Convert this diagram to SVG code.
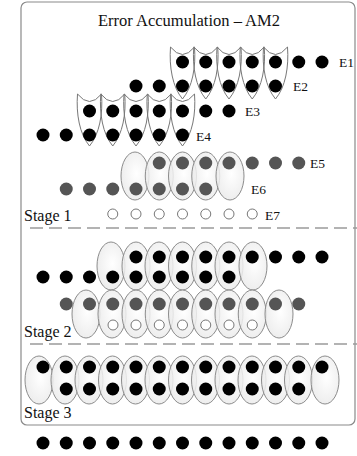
<svg xmlns="http://www.w3.org/2000/svg" xmlns:xlink="http://www.w3.org/1999/xlink" width="357" height="456" viewBox="0 0 357 456">
<style>
.t{font-family:"Liberation Serif","Times New Roman",serif;fill:#111}
.ttl{font-size:16.5px}
.stg{font-size:16px}
.lbl{font-size:13.5px}
.dash{stroke:#9a9a9a;stroke-width:1.6;stroke-dasharray:13 6;fill:none}
</style>
<defs>
<radialGradient id="eg" cx="0.55" cy="0.45" r="0.6">
<stop offset="0" stop-color="#ffffff"/>
<stop offset="1" stop-color="#e9e9e9"/>
</radialGradient>
<circle id="b" r="6.5" fill="#000"/>
<circle id="g" r="6.5" fill="#555"/>
<circle id="o" r="5" fill="#fff" stroke="#777" stroke-width="1"/>
<ellipse id="el" rx="14" ry="24" fill="url(#eg)" fill-opacity="0.85" stroke="#8c8c8c" stroke-width="1"/>
<path id="sh" d="M-12,0 Q0,15 12,0 C13.5,20 10,40 0,52 C-10,40 -13.5,20 -12,0 Z" fill="none" stroke="#777" stroke-width="1"/>
</defs>
<rect width="357" height="456" fill="#fff"/>
<g id="frame">
<rect x="21" y="2" width="334" height="423" rx="6" fill="none" stroke="#8a8a8a" stroke-width="1.2"/>
<text class="t ttl" x="189" y="26" text-anchor="middle">Error Accumulation – AM2</text>
</g>
<g id="stage1">
<g id="shields-top">
<use xlink:href="#sh" x="182.5" y="47"/><use xlink:href="#sh" x="205.75" y="47"/><use xlink:href="#sh" x="229" y="47"/><use xlink:href="#sh" x="252.25" y="47"/><use xlink:href="#sh" x="275.5" y="47"/>
</g>
<g id="E1">
<use xlink:href="#b" x="182.5" y="62"/><use xlink:href="#b" x="205.75" y="62"/><use xlink:href="#b" x="229" y="62"/><use xlink:href="#b" x="252.25" y="62"/><use xlink:href="#b" x="275.5" y="62"/><use xlink:href="#b" x="298.75" y="62"/><use xlink:href="#b" x="322" y="62"/>
<text class="t lbl" x="339" y="67">E1</text>
</g>
<g id="E2">
<use xlink:href="#b" x="136" y="86"/><use xlink:href="#b" x="159.25" y="86"/><use xlink:href="#b" x="182.5" y="86"/><use xlink:href="#b" x="205.75" y="86"/><use xlink:href="#b" x="229" y="86"/><use xlink:href="#b" x="252.25" y="86"/><use xlink:href="#b" x="275.5" y="86"/>
<text class="t lbl" x="293" y="91">E2</text>
</g>
<g id="shields-low">
<use xlink:href="#sh" x="89.5" y="94"/><use xlink:href="#sh" x="112.75" y="94"/><use xlink:href="#sh" x="136" y="94"/><use xlink:href="#sh" x="159.25" y="94"/><use xlink:href="#sh" x="182.5" y="94"/>
</g>
<g id="E3">
<use xlink:href="#b" x="89.5" y="111"/><use xlink:href="#b" x="112.75" y="111"/><use xlink:href="#b" x="136" y="111"/><use xlink:href="#b" x="159.25" y="111"/><use xlink:href="#b" x="182.5" y="111"/><use xlink:href="#b" x="205.75" y="111"/><use xlink:href="#b" x="229" y="111"/>
<text class="t lbl" x="245" y="116">E3</text>
</g>
<g id="E4">
<use xlink:href="#b" x="43" y="135"/><use xlink:href="#b" x="66.25" y="135"/><use xlink:href="#b" x="89.5" y="135"/><use xlink:href="#b" x="112.75" y="135"/><use xlink:href="#b" x="136" y="135"/><use xlink:href="#b" x="159.25" y="135"/><use xlink:href="#b" x="182.5" y="135"/>
<text class="t lbl" x="196" y="141">E4</text>
</g>
<g id="ell1">
<use xlink:href="#el" x="135" y="176"/><use xlink:href="#el" x="159.25" y="176"/><use xlink:href="#el" x="182.5" y="176"/><use xlink:href="#el" x="205.75" y="176"/><use xlink:href="#el" x="230" y="176"/>
</g>
<g id="E5">
<use xlink:href="#g" x="159.25" y="163"/><use xlink:href="#g" x="182.5" y="163"/><use xlink:href="#g" x="205.75" y="163"/><use xlink:href="#g" x="229" y="163"/><use xlink:href="#g" x="252.25" y="163"/><use xlink:href="#g" x="275.5" y="163"/><use xlink:href="#g" x="298.75" y="163"/>
<text class="t lbl" x="310" y="168">E5</text>
</g>
<g id="E6">
<use xlink:href="#g" x="66.25" y="189"/><use xlink:href="#g" x="89.5" y="189"/><use xlink:href="#g" x="112.75" y="189"/><use xlink:href="#g" x="136" y="189"/><use xlink:href="#g" x="159.25" y="189"/><use xlink:href="#g" x="182.5" y="189"/><use xlink:href="#g" x="205.75" y="189"/>
<text class="t lbl" x="251" y="194">E6</text>
</g>
<g id="E7">
<use xlink:href="#o" x="112.75" y="214"/><use xlink:href="#o" x="136" y="214"/><use xlink:href="#o" x="159.25" y="214"/><use xlink:href="#o" x="182.5" y="214"/><use xlink:href="#o" x="205.75" y="214"/><use xlink:href="#o" x="229" y="214"/><use xlink:href="#o" x="252.25" y="214"/>
<text class="t lbl" x="265" y="220">E7</text>
</g>
<text class="t stg" x="24" y="221">Stage 1</text>
</g>
<line class="dash" x1="30" y1="228" x2="357" y2="228"/>
<g id="stage2">
<g id="ell2a">
<use xlink:href="#el" x="111" y="266"/><use xlink:href="#el" x="136" y="266"/><use xlink:href="#el" x="159" y="266"/><use xlink:href="#el" x="182.5" y="266"/><use xlink:href="#el" x="205.75" y="266"/><use xlink:href="#el" x="229" y="266"/><use xlink:href="#el" x="253" y="266"/>
</g>
<g id="rowA">
<use xlink:href="#b" x="136" y="257"/><use xlink:href="#b" x="159.25" y="257"/><use xlink:href="#b" x="182.5" y="257"/><use xlink:href="#b" x="205.75" y="257"/><use xlink:href="#b" x="229" y="257"/><use xlink:href="#b" x="252.25" y="257"/><use xlink:href="#b" x="275.5" y="257"/><use xlink:href="#b" x="298.75" y="257"/><use xlink:href="#b" x="322" y="257"/>
</g>
<g id="rowB">
<use xlink:href="#b" x="43" y="277"/><use xlink:href="#b" x="66.25" y="277"/><use xlink:href="#b" x="89.5" y="277"/><use xlink:href="#b" x="112.75" y="277"/><use xlink:href="#b" x="136" y="277"/><use xlink:href="#b" x="159.25" y="277"/><use xlink:href="#b" x="182.5" y="277"/><use xlink:href="#b" x="205.75" y="277"/><use xlink:href="#b" x="229" y="277"/>
</g>
<g id="ell2b">
<use xlink:href="#el" x="86" y="314"/><use xlink:href="#el" x="112" y="314"/><use xlink:href="#el" x="136" y="314"/><use xlink:href="#el" x="159.25" y="314"/><use xlink:href="#el" x="182.5" y="314"/><use xlink:href="#el" x="205.75" y="314"/><use xlink:href="#el" x="229" y="314"/><use xlink:href="#el" x="252.25" y="314"/><use xlink:href="#el" x="279" y="314"/>
</g>
<g id="rowC">
<use xlink:href="#g" x="66.25" y="304"/><use xlink:href="#g" x="89.5" y="304"/><use xlink:href="#g" x="112.75" y="304"/><use xlink:href="#g" x="136" y="304"/><use xlink:href="#g" x="159.25" y="304"/><use xlink:href="#g" x="182.5" y="304"/><use xlink:href="#g" x="205.75" y="304"/><use xlink:href="#g" x="229" y="304"/><use xlink:href="#g" x="252.25" y="304"/><use xlink:href="#g" x="275.5" y="304"/><use xlink:href="#g" x="298.75" y="304"/>
</g>
<g id="rowD">
<use xlink:href="#o" x="113" y="325"/><use xlink:href="#o" x="136" y="325"/><use xlink:href="#o" x="159.25" y="325"/><use xlink:href="#o" x="182.5" y="325"/><use xlink:href="#o" x="205.75" y="325"/><use xlink:href="#o" x="229" y="325"/><use xlink:href="#o" x="252.25" y="325"/>
</g>
<text class="t stg" x="24" y="337">Stage 2</text>
</g>
<line class="dash" x1="30" y1="344" x2="357" y2="344"/>
<g id="stage3">
<g id="ell3">
<use xlink:href="#el" x="39" y="380"/><use xlink:href="#el" x="65" y="380"/><use xlink:href="#el" x="89" y="380"/><use xlink:href="#el" x="112.5" y="380"/><use xlink:href="#el" x="135.5" y="380"/><use xlink:href="#el" x="159" y="380"/><use xlink:href="#el" x="182.5" y="380"/><use xlink:href="#el" x="205.5" y="380"/><use xlink:href="#el" x="229" y="380"/><use xlink:href="#el" x="252" y="380"/><use xlink:href="#el" x="275.5" y="380"/><use xlink:href="#el" x="298.5" y="380"/><use xlink:href="#el" x="325" y="380"/>
</g>
<g id="row3a">
<use xlink:href="#b" x="43" y="367"/><use xlink:href="#b" x="66.25" y="367"/><use xlink:href="#b" x="89.5" y="367"/><use xlink:href="#b" x="112.75" y="367"/><use xlink:href="#b" x="136" y="367"/><use xlink:href="#b" x="159.25" y="367"/><use xlink:href="#b" x="182.5" y="367"/><use xlink:href="#b" x="205.75" y="367"/><use xlink:href="#b" x="229" y="367"/><use xlink:href="#b" x="252.25" y="367"/><use xlink:href="#b" x="275.5" y="367"/><use xlink:href="#b" x="298.75" y="367"/><use xlink:href="#b" x="322" y="367"/>
</g>
<g id="row3b">
<use xlink:href="#b" x="66.25" y="389"/><use xlink:href="#b" x="89.5" y="389"/><use xlink:href="#b" x="112.75" y="389"/><use xlink:href="#b" x="136" y="389"/><use xlink:href="#b" x="159.25" y="389"/><use xlink:href="#b" x="182.5" y="389"/><use xlink:href="#b" x="205.75" y="389"/><use xlink:href="#b" x="229" y="389"/><use xlink:href="#b" x="252.25" y="389"/><use xlink:href="#b" x="275.5" y="389"/><use xlink:href="#b" x="298.75" y="389"/>
</g>
<text class="t stg" x="24" y="418">Stage 3</text>
</g>
<g id="output-row">
<use xlink:href="#b" x="43" y="443"/><use xlink:href="#b" x="66.25" y="443"/><use xlink:href="#b" x="89.5" y="443"/><use xlink:href="#b" x="112.75" y="443"/><use xlink:href="#b" x="136" y="443"/><use xlink:href="#b" x="159.25" y="443"/><use xlink:href="#b" x="182.5" y="443"/><use xlink:href="#b" x="205.75" y="443"/><use xlink:href="#b" x="229" y="443"/><use xlink:href="#b" x="252.25" y="443"/><use xlink:href="#b" x="275.5" y="443"/><use xlink:href="#b" x="298.75" y="443"/><use xlink:href="#b" x="322" y="443"/>
</g>
</svg>
